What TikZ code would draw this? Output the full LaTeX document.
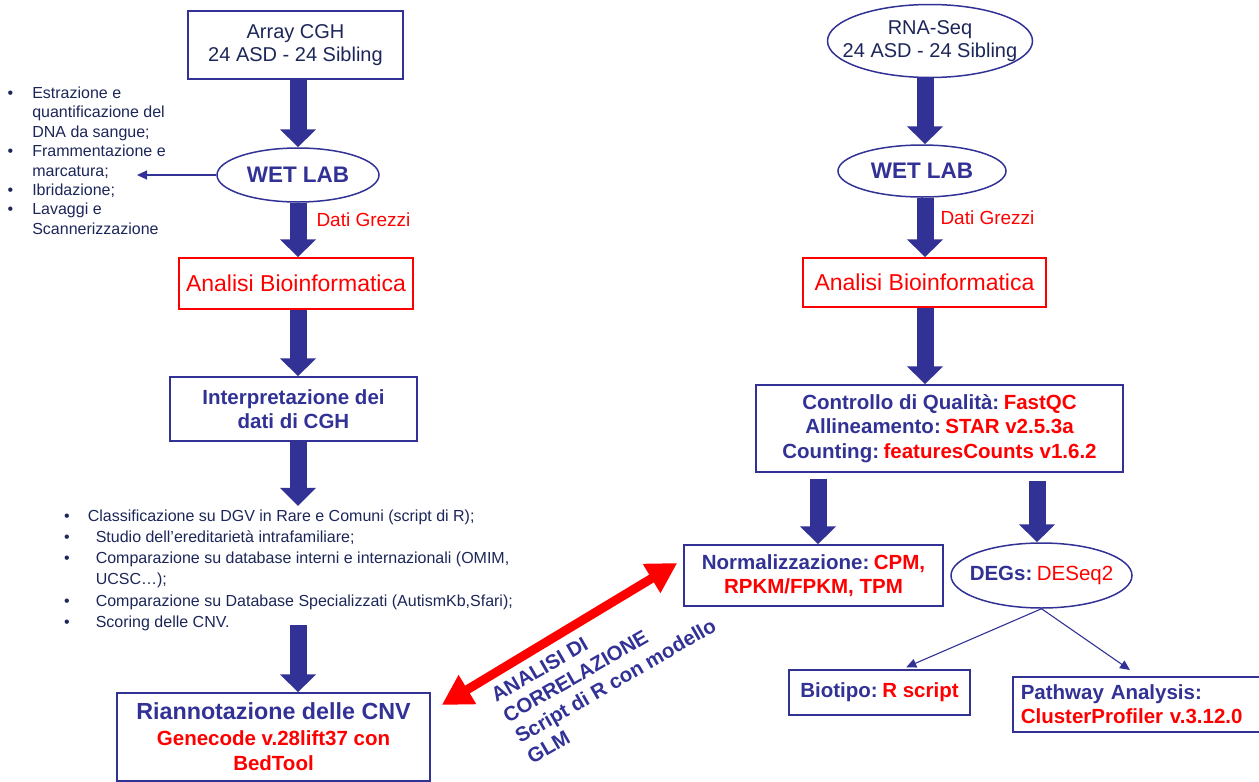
\documentclass[tikz,border=0pt]{standalone}
\usepackage{fontspec}
\setmainfont{Liberation Sans}
\usetikzlibrary{shapes.geometric,arrows.meta,calc}
\definecolor{navy}{RGB}{28,38,88}
\definecolor{bblue}{RGB}{50,50,150}
\definecolor{rred}{RGB}{255,0,0}
\newcommand{\rr}[1]{\textcolor{rred}{#1}}
\begin{document}
\begin{tikzpicture}[x=1pt,y=-1pt,
  box/.style={draw=bblue,line width=1.5pt,inner sep=0pt,align=center},
  redbox/.style={draw=rred,line width=1.5pt,inner sep=0pt,align=center},
  oval/.style={ellipse,draw=bblue,line width=1.5pt,inner xsep=-30pt,inner ysep=-5pt,align=center},
  bigarrow/.style={draw=bblue,line width=17pt,-{Triangle[width=35pt,length=18pt]}},
  thinarrow/.style={draw=bblue,line width=1.1pt,-{Triangle[width=9pt,length=10pt]}},
  redarrow/.style={draw=rred,line width=9pt,{Triangle[width=32pt,length=30pt]}-{Triangle[width=32pt,length=30pt]}},
  regtxt/.style={font=\fontsize{20}{23.3}\selectfont,text=navy},
  boldtxt/.style={font=\fontsize{20.5}{24.5}\selectfont\bfseries,text=bblue},
  listtxt/.style={anchor=base west,inner sep=0pt,text=navy},
]
\useasboundingbox (0,0) rectangle (1259,782);
\coordinate (colL) at (298,0);
\coordinate (colR) at (925,0);

% ---------------- left column
\node[box,regtxt,minimum width=215pt,minimum height=68pt] (cgh) at (295.5,45) {Array CGH\\24 ASD - 24 Sibling};
\node[oval,minimum width=162pt,minimum height=54pt,font=\fontsize{22.5}{26}\selectfont\bfseries,text=bblue] (wet1) at (298,175) {WET LAB};
\node[text=rred,font=\fontsize{19}{22}\selectfont,inner sep=0pt] (dati1) at (363.5,220) {Dati Grezzi};
\node[redbox,minimum width=234pt,minimum height=51pt,font=\fontsize{23}{26}\selectfont,text=rred] (bio1) at (296,283.5) {Analisi Bioinformatica};
\node[box,boldtxt,minimum width=247pt,minimum height=64pt] (interp) at (293.5,409) {Interpretazione dei\\dati di CGH};

\node[listtxt,font=\fontsize{16}{19.4}\selectfont] (list1) at (7.5,98.5)
 {\begin{tabular}[t]{@{}l@{\hspace{19pt}}l@{}}
 •&Estrazione e\\
  &quantificazione del\\
  &DNA da sangue;\\
 •&Frammentazione e\\
  &marcatura;\\
 •&Ibridazione;\\
 •&Lavaggi e\\
  &Scannerizzazione
 \end{tabular}};

\node[listtxt,font=\fontsize{16}{21.3}\selectfont] (list2) at (64,521)
 {\begin{tabular}[t]{@{}l@{\hspace{18pt}}l@{}}
 •&Classificazione su DGV in Rare e Comuni (script di R);\\
 •&\hspace{8pt}Studio dell’ereditarietà intrafamiliare;\\
 •&\hspace{8pt}Comparazione su database interni e internazionali (OMIM,\\
  &\hspace{8pt}UCSC…);\\
 •&\hspace{8pt}Comparazione su Database Specializzati (AutismKb,Sfari);\\
 •&\hspace{8pt}Scoring delle CNV.
 \end{tabular}};

\node[box,boldtxt,minimum width=313pt,minimum height=88pt] (rian) at (273.5,737)
 {{\fontsize{23.3}{26}\selectfont Riannotazione delle CNV}\\[1pt]\rr{Genecode v.28lift37 con}\\[1pt]\rr{BedTool}};

% ---------------- right column
\node[oval,regtxt,minimum width=205pt,minimum height=73pt] (rna) at (930,41) {RNA-Seq\\24 ASD - 24 Sibling};
\node[oval,minimum width=168pt,minimum height=52pt,font=\fontsize{22.5}{26}\selectfont\bfseries,text=bblue] (wet2) at (922,171) {WET LAB};
\node[text=rred,font=\fontsize{19}{22}\selectfont,inner sep=0pt] (dati2) at (987.5,218) {Dati Grezzi};
\node[redbox,minimum width=243pt,minimum height=49pt,font=\fontsize{23}{26}\selectfont,text=rred] (bio2) at (924.5,282.5) {Analisi Bioinformatica};
\node[box,boldtxt,minimum width=367pt,minimum height=87pt] (qc) at (939.5,428.5)
 {Controllo di Qualità:\hspace{0.22em}\rr{FastQC}\\Allineamento:\hspace{0.22em}\rr{STAR v2.5.3a}\\Counting:\hspace{0.22em}\rr{featuresCounts v1.6.2}};
\node[box,boldtxt,minimum width=259pt,minimum height=61pt] (norm) at (813.5,575.5)
 {Normalizzazione:\hspace{0.22em}\rr{CPM,}\\\rr{RPKM/FPKM, TPM}};
\node[oval,boldtxt,minimum width=181pt,minimum height=65pt] (degs) at (1041.5,575.5)
 {DEGs:\hspace{0.22em}\rr{\mdseries DESeq2}};
\node[box,boldtxt,minimum width=181pt,minimum height=45pt] (biot) at (879.5,692.5) {Biotipo:\hspace{0.22em}\rr{R script}};
\node[box,boldtxt,anchor=north west,text width=236pt,inner xsep=8pt,inner ysep=0pt,minimum height=55pt,align=left] (path) at (1012,676)
 {Pathway Analysis:\\\rr{ClusterProfiler v.3.12.0}};

% ---------------- rotated label
\node[rotate=30,anchor=north west,inner sep=0pt,align=left,font=\fontsize{20.4}{24}\selectfont\bfseries,text=bblue] (corr) at (489,690)
 {ANALISI DI\\CORRELAZIONE\\Script di R con modello\\GLM};

% ---------------- connectors
\coordinate (t1) at (137,175);
\draw[thinarrow] (wet1.west) -- (t1);
\draw[bigarrow] (cgh.south -| colL) -- (wet1.north);
\draw[bigarrow] (wet1.south) -- (bio1.north -| colL);
\draw[bigarrow] (bio1.south -| colL) -- (interp.north -| colL);
\draw[bigarrow] (interp.south -| colL) -- (list2.north -| colL);
\draw[bigarrow] ($(list2.south -| colL)+(0,-9)$) -- (rian.north -| colL);

\draw[bigarrow] (rna.south -| colR) -- (wet2.north -| colR);
\draw[bigarrow] (wet2.south -| colR) -- (bio2.north -| colR);
\draw[bigarrow] (bio2.south -| colR) -- (qc.north -| colR);
\draw[bigarrow] ($(norm.north |- qc.south)+(4.5,6)$) -- ($(norm.north)+(4.5,0)$);
\draw[bigarrow] ($(degs.north |- qc.south)+(-4.5,8)$) -- ($(degs.north)+(-4.5,0)$);
\draw[thinarrow] (degs.south) -- ($(biot.north west)+(118,-2)$);
\draw[thinarrow] (degs.south) -- ($(path.north west)+(118,-6)$);

\draw[redarrow] ($(rian.east)+(11,-32)$) -- ($(norm.west)+(-6,-12.5)$);
\end{tikzpicture}
\end{document}
